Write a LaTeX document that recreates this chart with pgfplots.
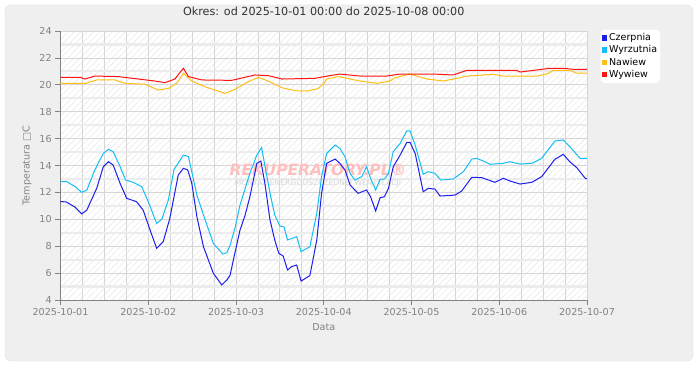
\documentclass[border=0pt]{standalone}
\usepackage{fontspec}
\setmainfont{DejaVu Sans}
\usepackage{pgfplots}
\pgfplotsset{compat=1.18}
\usetikzlibrary{patterns.meta}
\definecolor{czer}{RGB}{30,30,235}
\definecolor{wyrz}{RGB}{20,190,245}
\definecolor{naw}{RGB}{255,190,20}
\definecolor{wyw}{RGB}{255,20,20}
\definecolor{panel}{RGB}{239,239,239}
\definecolor{panelb}{RGB}{226,226,226}
\definecolor{txtgray}{RGB}{130,130,130}
\definecolor{gridc}{RGB}{214,214,214}
\definecolor{bandc}{RGB}{236,236,236}
\begin{document}
\begin{tikzpicture}[x=1pt,y=1pt]
\useasboundingbox (-60.5,-80) rectangle (639.5,300);
\fill[white] (-60.5,-80) rectangle (639.5,300);
\filldraw[fill=panel, draw=panelb, rounded corners=6pt] (-55.5,-61) rectangle (632.5,295);
\begin{axis}[
  at={(0,0)}, anchor=south west,
  scale only axis, width=526.5pt, height=269pt,
  xmin=0, xmax=144, ymin=4, ymax=24,
  axis lines=left,
  axis line style={-, draw=txtgray, line width=0.8pt},
  xtick={0,24,...,144},
  xticklabels={2025-10-01,2025-10-02,2025-10-03,2025-10-04,2025-10-05,2025-10-06,2025-10-07},
  ytick={4,6,...,24},
  minor x tick num=3, minor y tick num=1,
  tick align=outside, major tick length=5pt, minor tick length=0pt,
  tick style={draw=txtgray, line width=0.8pt},
  grid=both,
  major x grid style={draw=gridc, line width=0.8pt},
  minor x grid style={draw=gridc, line width=0.8pt},
  major y grid style={draw=gridc, line width=0.8pt},
  minor y grid style={draw=bandc, line width=2.2pt},
  axis background/.style={fill=white, postaction={pattern={Lines[angle=45,distance=4.5pt,line width=0.5pt]}, pattern color=black!9}},
  tick label style={font=\fontsize{9.6}{11}\selectfont, text=txtgray},
  /pgf/number format/assume math mode=true,
  xlabel={Data}, ylabel={Temperatura □C},
  xlabel style={at={(axis description cs:0.5,-0.1004)}, anchor=center, font=\fontsize{9.6}{11}\selectfont, text=txtgray},
  ylabel style={at={(axis description cs:-0.0636,0.5)}, anchor=center, font=\fontsize{9.6}{11}\selectfont, text=txtgray},
  title={Okres: od 2025-10-01 00:00 do 2025-10-08 00:00},
  title style={at={(axis description cs:0.5,1.0521)}, anchor=center, font=\fontsize{11.2}{13}\selectfont, text=black!80},
  legend style={at={(axis description cs:1.0247,1.0074)}, anchor=north west, draw=none, fill=white, rounded corners=4pt,
    font=\fontsize{9.5}{11}\selectfont, inner xsep=1pt, inner ysep=2pt, row sep=-0.5pt,
    /tikz/every even column/.append style={column sep=1pt}},
  legend cell align=left,
  legend image code/.code={\fill[#1, draw=none, sharp corners] (0pt,-2.8pt) rectangle (5.6pt,2.8pt);},
  line width=1pt,
]
\node[font=\fontsize{15.5}{17}\bfseries\itshape\selectfont, text=red!25!white] at (rel axis cs:0.489,0.483) {REKUPERATORY.PL®};
\node[font=\fontsize{7.6}{9}\selectfont, text=black!16] at (rel axis cs:0.489,0.435) {MONTAŻ ENERGOOSZCZĘDNEJ WENTYLACJI};
\addplot[color=czer, line width=1pt] coordinates {
(0,11.31) (1.5,11.3) (4.0,10.9) (5.8,10.4) (7.2,10.69) (9.9,12.3) (11.7,13.9) (13.1,14.28) (14.4,14.04)
(16.3,12.67) (18.1,11.56) (20.8,11.31) (22.6,10.69) (24.5,9.2) (26.3,7.84) (28.1,8.34) (29.9,10.07)
(32.2,13.29) (33.6,13.79) (34.8,13.67) (35.9,12.68) (37.3,10.2) (39.1,7.96) (41.8,5.99) (44.1,5.12)
(45.5,5.49) (46.4,5.86) (47.7,7.5) (49.1,9.2) (50.5,10.32) (51.8,11.68) (53.7,14.16) (54.8,14.33)
(55.9,12.68) (57.3,9.95) (58.6,8.46) (59.7,7.47) (60.9,7.27) (62.1,6.23) (63.2,6.48) (64.6,6.6)
(65.8,5.41) (68.2,5.81) (70.1,8.46) (71.4,11.93) (72.8,14.16) (75.1,14.48) (76.4,14.16) (77.8,13.67)
(79.2,12.55) (81.4,11.93) (83.7,12.18) (84.8,11.68) (86.2,10.62) (87.4,11.6) (88.6,11.68) (89.7,12.3)
(91.0,13.91) (92.9,14.78) (94.7,15.72) (95.6,15.72) (97.0,14.9) (99.2,12.05) (100.6,12.3) (102.4,12.25)
(103.8,11.73) (107.9,11.8) (109.7,12.1) (112.5,13.12) (115.2,13.1) (118.8,12.75) (121.1,13.05)
(122.9,12.85) (125.7,12.62) (128.9,12.75) (131.6,13.17) (135.2,14.46) (137.5,14.83) (139.3,14.28)
(141.2,13.84) (143.5,13.05) (144,13.0)
};
\addlegendentry{Czerpnia}
\addplot[color=wyrz, line width=1pt] coordinates {
(0,12.8) (1.7,12.8) (4.0,12.43) (5.8,12.0) (7.2,12.18) (9.4,13.67) (11.7,14.9) (13.1,15.2) (14.4,15.03)
(16.3,13.91) (17.8,12.92) (19.9,12.75) (22.2,12.43) (24.0,11.31) (26.3,9.70) (27.7,10.0) (29.5,11.43)
(31.0,13.67) (33.6,14.78) (35.0,14.66) (37.3,11.8) (39.1,10.32) (41.8,8.21) (44.4,7.42) (45.5,7.52)
(46.4,8.09) (47.7,9.33) (49.1,11.06) (51.8,13.42) (53.7,14.78) (55.0,15.35) (56.1,13.67) (57.5,11.68)
(58.6,10.32) (60.0,9.5) (61.1,9.45) (62.1,8.46) (64.6,8.71) (65.8,7.59) (68.2,7.96) (70.1,10.45)
(71.4,13.17) (72.8,14.9) (75.1,15.52) (76.4,15.28) (77.8,14.66) (79.2,13.42) (80.5,12.92) (82.4,13.17)
(83.7,13.91) (84.8,13.05) (86.2,12.18) (87.4,12.97) (88.6,13.0) (89.7,13.42) (91.0,15.03) (92.9,15.65)
(94.7,16.57) (95.6,16.57) (97.0,15.52) (99.2,13.35) (100.6,13.54) (102.4,13.42) (104.0,12.92)
(107.4,13.0) (110.2,13.54) (112.5,14.48) (113.8,14.53) (116.1,14.28) (117.5,14.09) (121.1,14.16)
(122.9,14.28) (125.7,14.11) (128.9,14.16) (131.6,14.53) (135.2,15.82) (137.5,15.9) (139.3,15.4)
(142.1,14.53) (144,14.53)
};
\addlegendentry{Wyrzutnia}
\addplot[color=naw, line width=1pt] coordinates {
(0,20.11) (6.9,20.11) (9.9,20.36) (14.9,20.36) (17.6,20.11) (23.1,20.04) (26.7,19.61) (29.5,19.73)
(31.8,20.11) (33.6,20.86) (35.9,20.28) (39.5,19.86) (45.0,19.36) (47.7,19.65) (50.5,20.11) (54.1,20.56)
(56.8,20.28) (60.6,19.78) (64.3,19.56) (67.8,19.54) (70.5,19.73) (72.1,20.11) (72.8,20.43) (76.0,20.61)
(79.2,20.43) (81.9,20.28) (86.5,20.11) (90.1,20.28) (91.5,20.53) (95.6,20.8) (100.2,20.43) (104.7,20.28)
(108.4,20.48) (111.1,20.65) (118.4,20.78) (121.1,20.65) (124.8,20.65) (130.2,20.65) (133.0,20.8)
(134.8,21.07) (139.3,21.07) (141.2,20.86) (144,20.86)
};
\addlegendentry{Nawiew}
\addplot[color=wyw, line width=1pt] coordinates {
(0,20.56) (5.3,20.56) (6.7,20.43) (9.4,20.65) (15.8,20.61) (21.3,20.43) (25.8,20.28) (28.6,20.16)
(31.3,20.43) (33.6,21.23) (35.0,20.61) (38.6,20.36) (46.8,20.33) (53.2,20.73) (56.8,20.68) (60.6,20.43)
(69.6,20.48) (72.1,20.61) (76.4,20.8) (81.9,20.65) (89.2,20.65) (92.9,20.8) (102.0,20.8) (107.4,20.73)
(111.1,21.07) (124.8,21.07) (125.7,20.95) (129.3,21.07) (133.9,21.23) (137.5,21.23) (140.3,21.15)
(144,21.15)
};
\addlegendentry{Wywiew}
\end{axis}
\end{tikzpicture}
\end{document}
